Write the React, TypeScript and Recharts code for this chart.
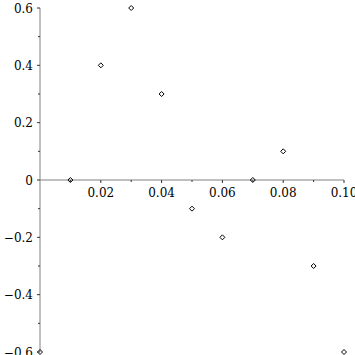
import { ScatterChart, Scatter, XAxis, YAxis, ReferenceLine } from "recharts";

const xValues = [0, 0.01, 0.02, 0.03, 0.04, 0.05, 0.06, 0.07, 0.08, 0.09, 0.1];
const yValues = [-0.6, 0, 0.4, 0.6, 0.3, -0.1, -0.2, 0, 0.1, -0.3, -0.6];
const xTicks = [0, 0.01, 0.02, 0.03, 0.04, 0.05, 0.06, 0.07, 0.08, 0.09, 0.1];
const yTicks = [-0.6, -0.5, -0.4, -0.3, -0.2, -0.1, 0, 0.1, 0.2, 0.3, 0.4, 0.5, 0.6];

const W = 355;
const H = 355;
const X_AXIS_H = 1;
const MARGIN = { top: 8, right: 11, bottom: 2, left: 0 };
const Y_AXIS_W = 40;
const AXIS_X = MARGIN.left + Y_AXIS_W;
// x axis crosses at y = 0, the middle of the symmetric domain
const ZERO_Y = MARGIN.top + (H - MARGIN.top - MARGIN.bottom - X_AXIS_H) / 2;
const LABEL_STYLE = { fontFamily: "'DejaVu Serif', serif", fontSize: 12 };
const AXIS_COLOR = "#808080";
const TICK_COLOR = "#333";

const data = xValues.map((x, i) => ({ x, y: yValues[i] }));

function fmt(v: number, digits: number) {
  if (Math.abs(v) < 1e-9) return "0";
  const s = Math.abs(v).toFixed(digits);
  return v < 0 ? "\u2212" + s : s;
}

function renderXTick(props: any) {
  const { x, payload, index } = props;
  const v = payload.value as number;
  if (Math.abs(v) < 1e-9) return <g key={`xt-${index}`} />;
  const major = Math.round(v * 100) % 2 === 0;
  return (
    <g key={`xt-${index}`}>
      <line x1={x} x2={x} y1={ZERO_Y} y2={ZERO_Y + (major ? 3 : 2)} stroke={TICK_COLOR} />
      {major && (
        <text x={x} y={ZERO_Y + 17} textAnchor="middle" style={LABEL_STYLE} fill="#000">
          {fmt(v, 2)}
        </text>
      )}
    </g>
  );
}

function renderYTick(props: any) {
  const { y, payload, index } = props;
  const v = payload.value as number;
  const major = Math.round(v * 10) % 2 === 0;
  return (
    <g key={`yt-${index}`}>
      <line x1={AXIS_X - (major ? 3 : 2)} x2={AXIS_X} y1={y} y2={y} stroke={TICK_COLOR} />
      {major && (
        <text x={AXIS_X - 7} y={y + 4.5} textAnchor="end" style={LABEL_STYLE} fill="#000">
          {fmt(v, 1)}
        </text>
      )}
    </g>
  );
}

function Diamond(props: any) {
  const { cx, cy } = props;
  const r = 2.5;
  return (
    <path
      d={`M${cx},${cy - r} L${cx + r},${cy} L${cx},${cy + r} L${cx - r},${cy} Z`}
      fill="none"
      stroke="#000"
      strokeWidth={1}
    />
  );
}

export default function App() {
  return (
    <div style={{ position: "fixed", left: 0, top: 0, background: "#fff" }}>
      <ScatterChart width={W} height={H} margin={MARGIN}>
        <XAxis
          type="number"
          dataKey="x"
          domain={[0, 0.1]}
          ticks={xTicks}
          interval={0}
          height={X_AXIS_H}
          axisLine={false}
          tickLine={false}
          tick={renderXTick}
        />
        <YAxis
          type="number"
          dataKey="y"
          domain={[-0.6, 0.6]}
          ticks={yTicks}
          interval={0}
          width={Y_AXIS_W}
          axisLine={{ stroke: AXIS_COLOR }}
          tickLine={false}
          tick={renderYTick}
        />
        <ReferenceLine y={0} stroke={AXIS_COLOR} />
        <Scatter data={data} shape={<Diamond />} isAnimationActive={false} />
      </ScatterChart>
    </div>
  );
}
